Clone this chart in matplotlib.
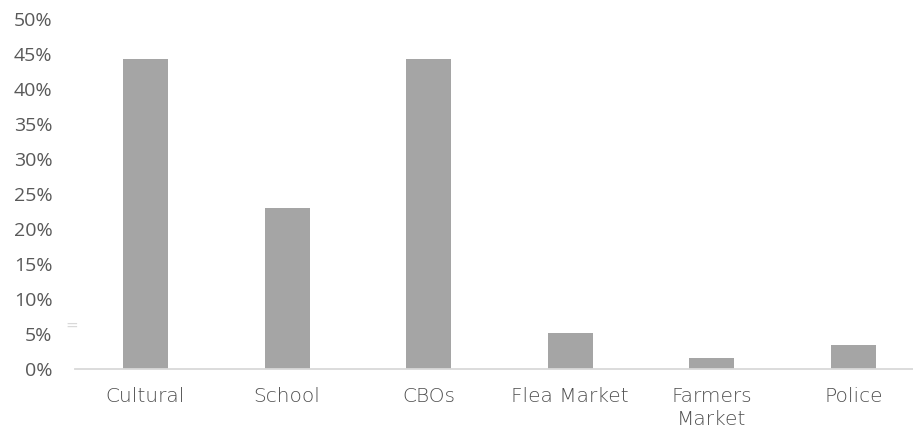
import matplotlib.pyplot as plt
from matplotlib.ticker import PercentFormatter

# datos
categorias = ["Cultural", "School", "CBOs", "Flea Market", "Farmers\nMarket", "Police"]
valores = [44.4, 23.1, 44.4, 5.2, 1.6, 3.5]
y_ticks = list(range(0, 51, 5))

plt.rcParams['font.family'] = ['DejaVu Sans']
gris_txt = "#595959"

fig = plt.figure(figsize=(9.13, 4.32), dpi=100)
ax = fig.add_axes([0.0818, 0.1447, 0.918, 0.8102])

x = list(range(len(categorias)))
ax.bar(x, valores, width=0.318, color="#A5A5A5", zorder=2)

ax.set_xlim(-0.5, 5.42)
ax.set_ylim(0, 50)
ax.set_yticks(y_ticks)
ax.yaxis.set_major_formatter(PercentFormatter(decimals=0))
ax.set_xticks(x)
ax.set_xticklabels(categorias, linespacing=1.3)

for s in ["top", "right", "left"]:
    ax.spines[s].set_visible(False)
ax.spines["bottom"].set_color("#D9D9D9")
ax.spines["bottom"].set_linewidth(1.3)

ax.tick_params(axis="y", length=0, pad=16, labelcolor=gris_txt)
ax.tick_params(axis="x", length=0, pad=12.5, labelcolor="#505050")
for t in ax.get_yticklabels():
    t.set_fontfamily(['Open Sans', 'DejaVu Sans'])
    t.set_fontsize(14)
for t in ax.get_xticklabels():
    t.set_fontsize(14.5)
    t.set_fontweight('light')

# marca pequeña junto al eje
fig.text(71.5 / 913, 1 - 325 / 432, "=", color="#D9D9D9", fontsize=11, ha="center", va="center")

fig.savefig("out.png", dpi=100)
